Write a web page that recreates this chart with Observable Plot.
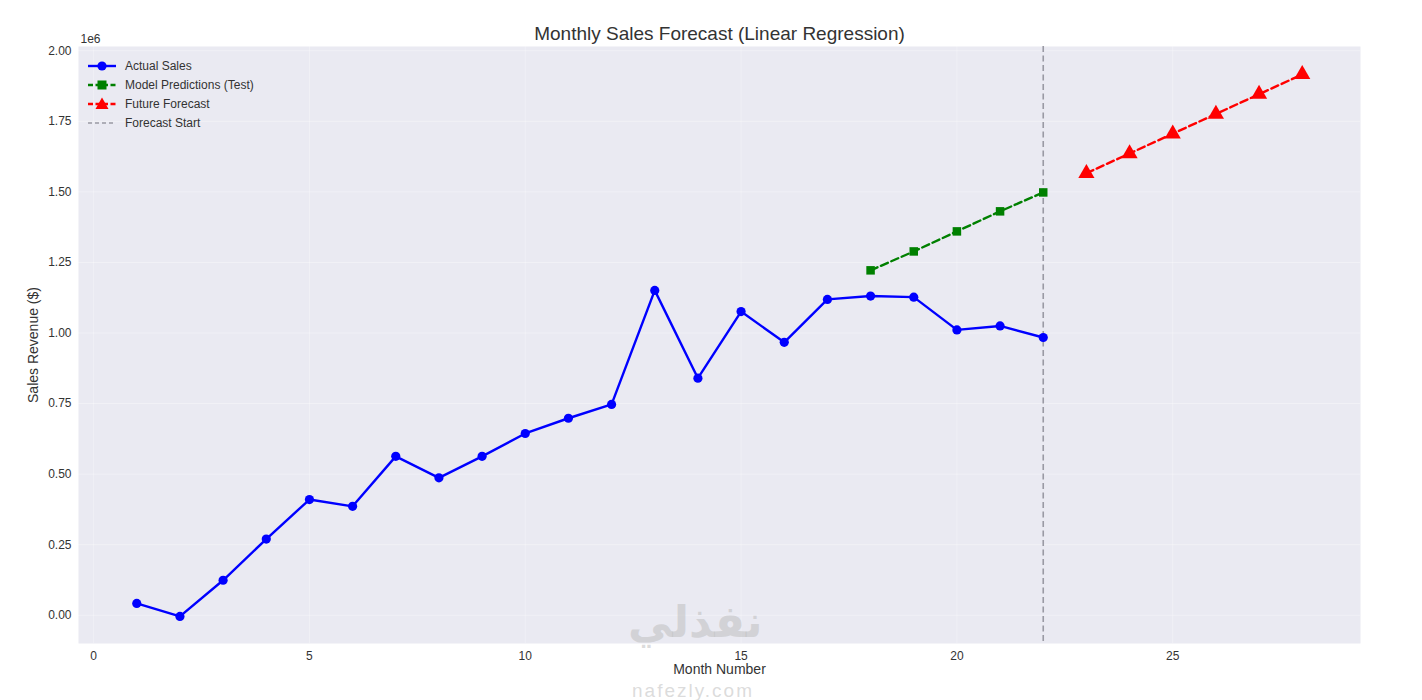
<!DOCTYPE html>
<html>
<head>
<meta charset="utf-8">
<script src="https://cdn.jsdelivr.net/npm/d3@7"></script>
<script src="https://cdn.jsdelivr.net/npm/@observablehq/plot@0.6"></script>
<style>
  html, body { margin: 0; padding: 0; background: #fff; }
  #wrap { position: relative; width: 1422px; height: 700px; font-family: "Liberation Sans", Arial, sans-serif; }
  #legend { position: absolute; left: 87px; top: 56px; font-size: 12px; color: #333; }
  #legend .row { display: flex; align-items: center; height: 19px; }
  #legend svg { margin-right: 8px; }
  .wm { position: absolute; color: rgba(190,190,190,0.55); pointer-events: none; white-space: nowrap; line-height: 1; }
</style>
</head>
<body>
<div id="wrap"></div>
<script>
// ---- data ----
const actualMonths = [1,2,3,4,5,6,7,8,9,10,11,12,13,14,15,16,17,18,19,20,21,22];
const actualSales = [0.042e6,-0.004e6,0.124e6,0.270e6,0.410e6,0.386e6,0.563e6,0.487e6,0.563e6,0.644e6,0.698e6,0.747e6,1.151e6,0.840e6,1.076e6,0.967e6,1.119e6,1.131e6,1.127e6,1.011e6,1.025e6,0.984e6];
const testMonths = [18,19,20,21,22];
const testPred = [1.222e6,1.289e6,1.360e6,1.431e6,1.498e6];
const futureMonths = [23,24,25,26,27,28];
const futureForecast = [1.566e6,1.636e6,1.706e6,1.776e6,1.846e6,1.916e6];
const forecastStart = 22;
const yTicks = [0,0.25e6,0.5e6,0.75e6,1.0e6,1.25e6,1.5e6,1.75e6,2.0e6];
const xTicks = [0,5,10,15,20,25];
const legendLabels = ["Actual Sales","Model Predictions (Test)","Future Forecast","Forecast Start"];

const actual = actualMonths.map((m,i)=>({m, v: actualSales[i]}));
const test = testMonths.map((m,i)=>({m, v: testPred[i]}));
const future = futureMonths.map((m,i)=>({m, v: futureForecast[i]}));

const chart = Plot.plot({
  width: 1422,
  height: 700,
  marginLeft: 78,
  marginRight: 62,
  marginTop: 46,
  marginBottom: 57,
  style: { fontFamily: "Liberation Sans, Arial, sans-serif", fontSize: "12px", color: "#333", background: "#fff" },
  x: { domain: [-0.35, 29.35], label: null },
  y: { domain: [-0.1e6, 2.015e6], label: null },
  marks: [
    Plot.frame({ fill: "#EAEAF2", stroke: null }),
    Plot.gridY(yTicks, { stroke: "#fff", strokeOpacity: 0.35, strokeWidth: 1 }),
    Plot.gridX(xTicks, { stroke: "#fff", strokeOpacity: 0.3, strokeWidth: 1 }),
    Plot.axisY(yTicks, { tickSize: 0, tickPadding: 7, tickFormat: d => (d/1e6).toFixed(2), fontSize: 12, label: null }),
    Plot.axisX(xTicks, { tickSize: 0, tickPadding: 8, fontSize: 12, label: null }),
    Plot.ruleX([forecastStart], { stroke: "#9a9aa4", strokeWidth: 1.6, strokeDasharray: "6,3.5" }),
    Plot.line(actual, { x: "m", y: "v", stroke: "#0000FF", strokeWidth: 2.4 }),
    Plot.dot(actual, { x: "m", y: "v", fill: "#0000FF", r: 4.6 }),
    Plot.line(test, { x: "m", y: "v", stroke: "#008000", strokeWidth: 2.4, strokeDasharray: "7.5,3.8" }),
    Plot.dot(test, { x: "m", y: "v", fill: "#008000", symbol: "square", r: 4.8 }),
    Plot.line(future, { x: "m", y: "v", stroke: "#FF0000", strokeWidth: 2.4, strokeDasharray: "7.5,3.8" }),
    Plot.dot(future, { x: "m", y: "v", fill: "#FF0000", symbol: "triangle", r: 6 }),
    Plot.text(["Monthly Sales Forecast (Linear Regression)"], { frameAnchor: "top", dy: -20, fontSize: 19, fill: "#333" }),
    Plot.text(["Month Number"], { frameAnchor: "bottom", dy: 30, fontSize: 14, fill: "#333" }),
    Plot.text(["Sales Revenue ($)"], { frameAnchor: "left", textAnchor: "middle", dx: -45, rotate: -90, fontSize: 14, fill: "#333" }),
    Plot.text(["1e6"], { frameAnchor: "top-left", dx: 2, dy: -12, fontSize: 12, fill: "#333", textAnchor: "start" })
  ]
});
const wrap = document.getElementById("wrap");
wrap.appendChild(chart);

// legend
const leg = document.createElement("div");
leg.id = "legend";
const styles = [
  { c: "#0000FF", dash: null, sym: "circle" },
  { c: "#008000", dash: "5,2.5", sym: "square" },
  { c: "#FF0000", dash: "5,2.5", sym: "triangle" },
  { c: "#9a9aa4", dash: "4,3", sym: null }
];
legendLabels.forEach((lab, i) => {
  const s = styles[i];
  const row = document.createElement("div");
  row.className = "row";
  let mk = "";
  if (s.sym === "circle") mk = `<circle cx="15" cy="8" r="4.6" fill="${s.c}"/>`;
  if (s.sym === "square") mk = `<rect x="10.5" y="3.5" width="9" height="9" fill="${s.c}"/>`;
  if (s.sym === "triangle") mk = `<path d="M15,1.5 L21.5,13 L8.5,13 Z" fill="${s.c}"/>`;
  const sw = s.sym ? 2.4 : 1.6;
  row.innerHTML = `<svg width="30" height="16"><line x1="1" y1="8" x2="29" y2="8" stroke="${s.c}" stroke-width="${sw}" ${s.dash ? `stroke-dasharray="${s.dash}"` : ""}/>${mk}</svg><span>${lab}</span>`;
  leg.appendChild(row);
});
wrap.appendChild(leg);

// watermark
const w1 = document.createElement("div");
w1.className = "wm";
w1.style.cssText += "left:628px;top:600px;font-size:44px;font-weight:bold;font-family:'DejaVu Sans',sans-serif;";
w1.textContent = "نفذلي";
wrap.appendChild(w1);
const w2 = document.createElement("div");
w2.className = "wm";
w2.style.cssText += "left:632px;top:681px;font-size:19px;font-family:'Liberation Sans',sans-serif;letter-spacing:2px;";
w2.textContent = "nafezly.com";
wrap.appendChild(w2);
</script>
</body>
</html>
